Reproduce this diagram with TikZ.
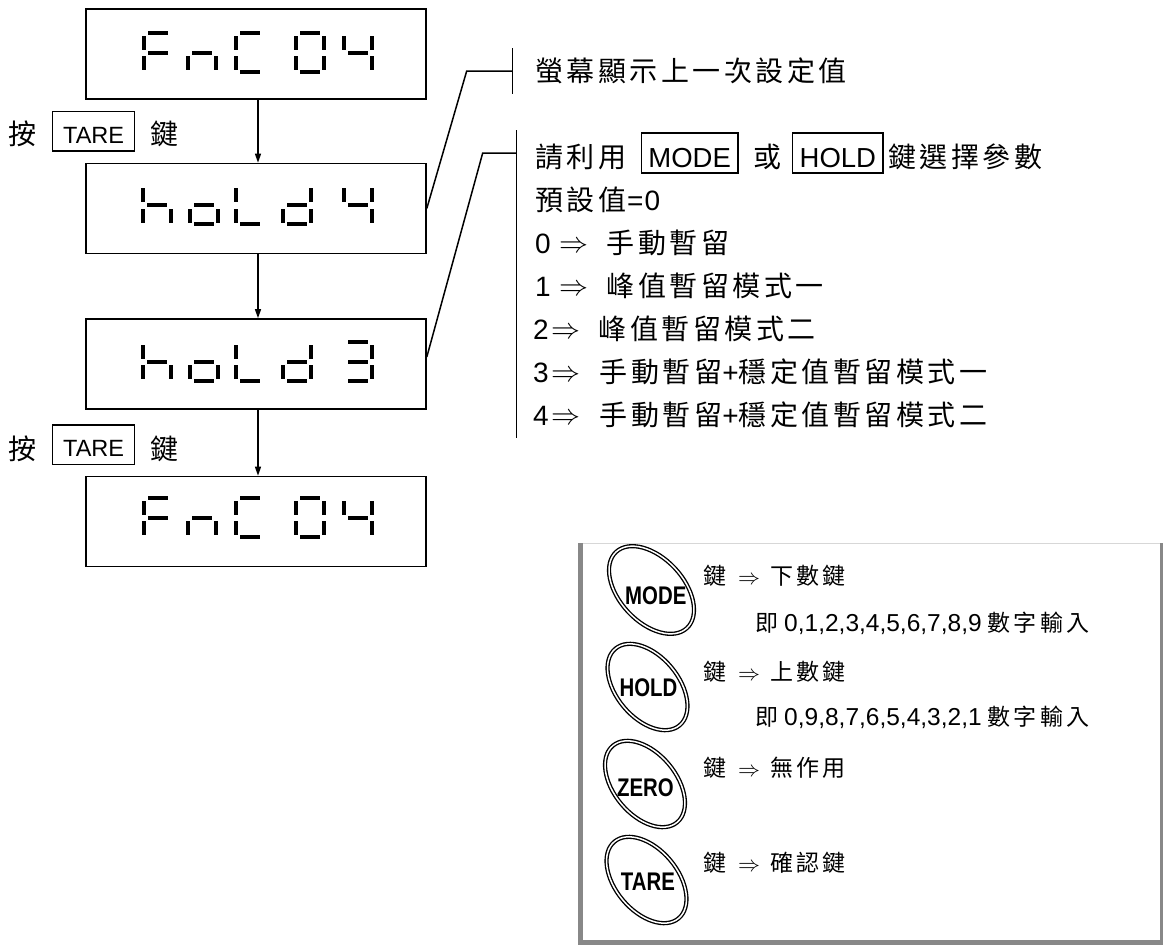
\documentclass[tikz,border=0pt]{standalone}
\usepackage{fontspec}
\setmainfont{Liberation Sans}
\newfontfamily\cjk[LetterSpace=12.5]{Noto Sans CJK TC}
\newfontfamily\cjkb[LetterSpace=14]{Noto Sans CJK TC}
\newfontfamily\cjkc{Noto Sans CJK TC}
\newfontfamily\keyf[FakeStretch=0.8]{Liberation Sans}
\usetikzlibrary{arrows.meta}
\definecolor{panelg}{RGB}{136,136,136}
\definecolor{panell}{RGB}{215,215,215}
% seven-segment pieces: #1 = left x, #2 = centre y
\newcommand\zsa[2]{\fill (#1+6,#2-22) rectangle (#1+26,#2-18);}
\newcommand\zsb[2]{\fill (#1+28,#2-17) rectangle (#1+32,#2-3);}
\newcommand\zsc[2]{\fill (#1+28,#2+3.5) rectangle (#1+32,#2+17.5);}
\newcommand\zsd[2]{\fill (#1+6,#2+17) rectangle (#1+26,#2+21);}
\newcommand\zse[2]{\fill (#1,#2+3.5) rectangle (#1+4,#2+17.5);}
\newcommand\zsf[2]{\fill (#1,#2-17) rectangle (#1+4,#2-3);}
\newcommand\zsg[2]{\fill (#1+6,#2-2) rectangle (#1+26,#2+2);}
\newcommand\zdig[3]{\foreach \s in {#3}{\csname zs\s\endcsname{#1}{#2}}}
\newcommand\fncrow[1]{%
  \zdig{142}{#1}{a,f,g,e}\zdig{186}{#1}{e,g,c}\zdig{234}{#1}{a,f,e,d}%
  \zdig{294}{#1}{a,b,c,d,e,f}\zdig{342}{#1}{f,g,b,c}}
\newcommand\holdrow[1]{%
  \zdig{141}{#1}{f,e,g,c}\zdig{188}{#1}{g,c,d,e}\zdig{234}{#1}{f,e,d}%
  \zdig{281}{#1}{b,c,d,e,g}}
\newcommand\cjt[1]{{\cjk\fontsize{28}{30}\selectfont #1}}
\newcommand\bigarr{\raisebox{1pt}{\resizebox{29pt}{!}{$\Rightarrow$}}}
\newcommand\midarr{\raisebox{0.5pt}{\resizebox{22pt}{!}{$\Rightarrow$}}}
\begin{document}
\begin{tikzpicture}[x=1pt,y=-1pt,
  dispbox/.style={draw, line width=1.6pt, minimum width=340pt, minimum height=90pt, inner sep=0pt},
  arr/.style={line width=1.3pt, -{Triangle[length=9pt,width=6pt]}},
  conn/.style={line width=1.5pt},
  keybox/.style={draw, line width=1.4pt, inner xsep=7pt, inner ysep=6pt, text height=28pt, text depth=0pt, font=\fontsize{27.5}{30}\selectfont, anchor=base west},
  tarebox/.style={draw, line width=1.4pt, inner xsep=10.5pt, inner ysep=7pt, text height=25pt, text depth=0.7pt, font=\fontsize{23.5}{26}\selectfont, anchor=base west},
  cjtop/.style={inner sep=0pt, anchor=base west, font=\fontsize{28}{30}\selectfont},
  cjside/.style={inner sep=0pt, anchor=base west, font=\cjkc\fontsize{28}{30}\selectfont},
  cjbot/.style={inner sep=0pt, anchor=base west, font=\fontsize{23}{26}\selectfont},
  keyring/.style={draw, line width=1.35pt, double=white, double distance=1.5pt},
  keytext/.style={inner sep=0pt, font=\keyf\bfseries\fontsize{25.5}{28}\selectfont}]
\useasboundingbox (0,0) rectangle (1163,945);

% display boxes
\node[dispbox] (b1) at (256,54) {};
\node[dispbox] (b2) at (256,208.5) {};
\node[dispbox] (b3) at (256,364) {};
\node[dispbox] (b4) at (256,521.5) {};
\fncrow{52.7}
\holdrow{205.3}\zdig{342}{205.3}{f,g,b,c}
\holdrow{361.7}\zdig{342}{361.7}{a,b,g,c,d}
\fncrow{517.7}

% arrows
\draw[arr] ([xshift=2pt]b1.south) -- ([xshift=2pt]b2.north);
\draw[arr] ([xshift=2pt]b2.south) -- ([xshift=2pt]b3.north);
\draw[arr] ([xshift=2pt]b3.south) -- ([xshift=2pt]b4.north);

% press TARE labels
\node[cjside] (p1) at (8,144.6) {按};
\node[tarebox] (k1) at (52,143.3) {TARE};
\node[cjside] (p1b) at (150,144.6) {鍵};
\node[cjside] (p2) at (8,459) {按};
\node[tarebox] (k2) at (52,456.8) {TARE};
\node[cjside] (p2b) at (150,459) {鍵};

% connectors to the notes
\coordinate (c1a) at (466.7,71);
\coordinate (c1b) at (512.7,71);
\coordinate (v1t) at (512.7,48);
\coordinate (v1b) at (512.7,94);
\draw[conn] (b2.east) -- (c1a) -- (c1b);
\draw[conn] (v1t) -- (v1b);
\coordinate (c2a) at (482.7,153);
\coordinate (c2b) at (516.7,153);
\coordinate (v2t) at (516.7,130);
\coordinate (v2b) at (516.7,438);
\draw[conn] ([yshift=7pt]b3.east) -- (c2a) -- (c2b);
\draw[conn] (v2t) -- (v2b);

% notes
\node[cjtop] (n1) at (535,81.6) {\cjt{螢幕顯示上一次設定值}};
\node[cjtop] (n2a) at (535,167.6) {\cjt{請利用}};
\node[keybox] (mk) at (640.7,167) {MODE};
\node[cjtop] (n2b) at (753,167.6) {\cjt{或}};
\node[keybox] (hk) at (792,167) {HOLD};
\node[cjtop] (n2c) at (888,167.6) {\cjt{鍵選擇參數}};
\node[cjtop] (n3) at (535,210.5) {\cjt{預設值}\hspace{1pt}=\hspace{1pt}0};
\node[cjtop] (n4) at (535,253.5) {0\hspace{9pt}\bigarr\hspace{18pt}\cjt{手動暫留}};
\node[cjtop] (n5) at (535,296.5) {1\hspace{9pt}\bigarr\hspace{18pt}\cjt{峰值暫留模式一}};
\node[cjtop] (n6) at (533,339.5) {2\hspace{3pt}\bigarr\hspace{18pt}\cjt{峰值暫留模式二}};
\node[cjtop] (n7) at (533,382.5) {3\hspace{3pt}\bigarr\hspace{19pt}\cjt{手動暫留}+\cjt{穩定值暫留模式一}};
\node[cjtop] (n8) at (533,425.5) {4\hspace{3pt}\bigarr\hspace{19pt}\cjt{手動暫留}+\cjt{穩定值暫留模式二}};

% key panel
\draw[panell, line width=1.2pt] (578,543.5) -- (1163,543.5);
\draw[panelg, line width=5pt] (580,543) -- (580,942.5) -- (1163,942.5);
\draw[panelg, line width=2.5pt] (1161.5,543) -- (1161.5,942.5);

\draw[keyring, rotate around={-47:(651.5,590)}] (651.5,590) ellipse [x radius=52, y radius=32];
\draw[keyring, rotate around={-50:(647.5,687)}] (647.5,687) ellipse [x radius=50, y radius=31];
\draw[keyring, rotate around={-50:(645,784)}] (645,784) ellipse [x radius=50, y radius=31];
\draw[keyring, rotate around={-50:(646.5,880)}] (646.5,880) ellipse [x radius=50, y radius=31];
\node[keytext] (km) at (655.8,596) {MODE};
\node[keytext] (kh) at (648.5,687.5) {HOLD};
\node[keytext] (kz) at (645.5,788) {ZERO};
\node[keytext] (kt) at (648,882) {TARE};

\node[cjbot] (d1) at (703,584.7) {{\cjkb 鍵}\hspace{12pt}\midarr\hspace{10pt}{\cjkb 下數鍵}};
\node[cjbot] (d2) at (755,631.7) {{\cjkb 即}\hspace{6pt}{\fontsize{24.5}{26}\selectfont 0,1,2,3,4,5,6,7,8,9}\hspace{6pt}{\cjkb 數字輸入}};
\node[cjbot] (d3) at (703,680.7) {{\cjkb 鍵}\hspace{12pt}\midarr\hspace{10pt}{\cjkb 上數鍵}};
\node[cjbot] (d4) at (755,725.7) {{\cjkb 即}\hspace{6pt}{\fontsize{24.5}{26}\selectfont 0,9,8,7,6,5,4,3,2,1}\hspace{6pt}{\cjkb 數字輸入}};
\node[cjbot] (d5) at (703,776.7) {{\cjkb 鍵}\hspace{12pt}\midarr\hspace{10pt}{\cjkb 無作用}};
\node[cjbot] (d6) at (703,871.7) {{\cjkb 鍵}\hspace{12pt}\midarr\hspace{10pt}{\cjkb 確認鍵}};
\end{tikzpicture}
\end{document}
